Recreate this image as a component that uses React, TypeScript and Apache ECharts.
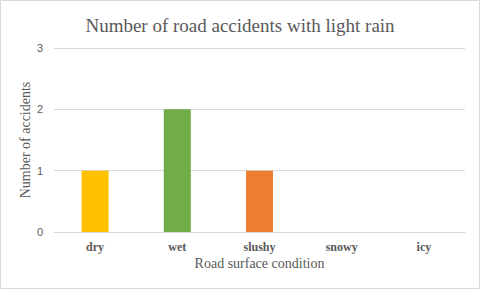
import React, { useEffect, useRef } from "react";
import * as echarts from "echarts";

const categories = ["dry", "wet", "slushy", "snowy", "icy"];
const accidents = [1, 2, 1, 0, 0];
const barColors = ["#FFC000", "#70AD47", "#ED7D31", "#5B9BD5", "#A5A5A5"];
const yTicks = [0, 1, 2, 3];

const SERIF = "'Liberation Serif', 'Times New Roman', serif";
const SANS = "'Liberation Sans', Arial, sans-serif";

export default function App() {
  const ref = useRef<HTMLDivElement>(null);
  useEffect(() => {
    const chart = echarts.init(ref.current!, null, { renderer: "svg" });
    chart.setOption({
      animation: false,
      backgroundColor: "#ffffff",
      title: {
        text: "Number of road accidents with light rain",
        left: "center",
        top: 11,
        textStyle: {
          fontFamily: SERIF,
          fontSize: 19,
          fontWeight: "normal",
          color: "#595959",
        },
      },
      graphic: [
        {
          type: "rect",
          shape: { x: 0.5, y: 0.5, width: 479, height: 288 },
          style: { fill: "none", stroke: "#d9d9d9", lineWidth: 1 },
          silent: true,
        },
      ],
      grid: { left: 54, right: 15, top: 48, bottom: 57 },
      xAxis: {
        type: "category",
        data: categories,
        name: "Road surface condition",
        nameLocation: "middle",
        nameGap: 24,
        nameMoveOverlap: false,
        nameTextStyle: { fontFamily: SERIF, fontSize: 14, color: "#595959" },
        axisLine: { lineStyle: { color: "#d9d9d9" } },
        axisTick: { show: false },
        axisLabel: {
          fontFamily: SERIF,
          fontSize: 12,
          fontWeight: "bold",
          color: "#595959",
          margin: 9,
        },
      },
      yAxis: {
        type: "value",
        min: yTicks[0],
        max: yTicks[yTicks.length - 1],
        interval: 1,
        name: "Number of accidents",
        nameLocation: "middle",
        nameGap: 22,
        nameMoveOverlap: false,
        nameTextStyle: { fontFamily: SERIF, fontSize: 14, color: "#595959" },
        axisLine: { show: false },
        axisTick: { show: false },
        axisLabel: { fontFamily: SANS, fontSize: 11, color: "#595959", margin: 11 },
        splitLine: { lineStyle: { color: "#d9d9d9" } },
      },
      series: [
        {
          type: "bar",
          barWidth: 27,
          data: accidents.map((v, i) => ({ value: v, itemStyle: { color: barColors[i] } })),
        },
      ],
    });
    return () => chart.dispose();
  }, []);
  return (
    <div
      ref={ref}
      style={{ position: "fixed", left: 0, top: 0, width: 480, height: 289 }}
    />
  );
}
